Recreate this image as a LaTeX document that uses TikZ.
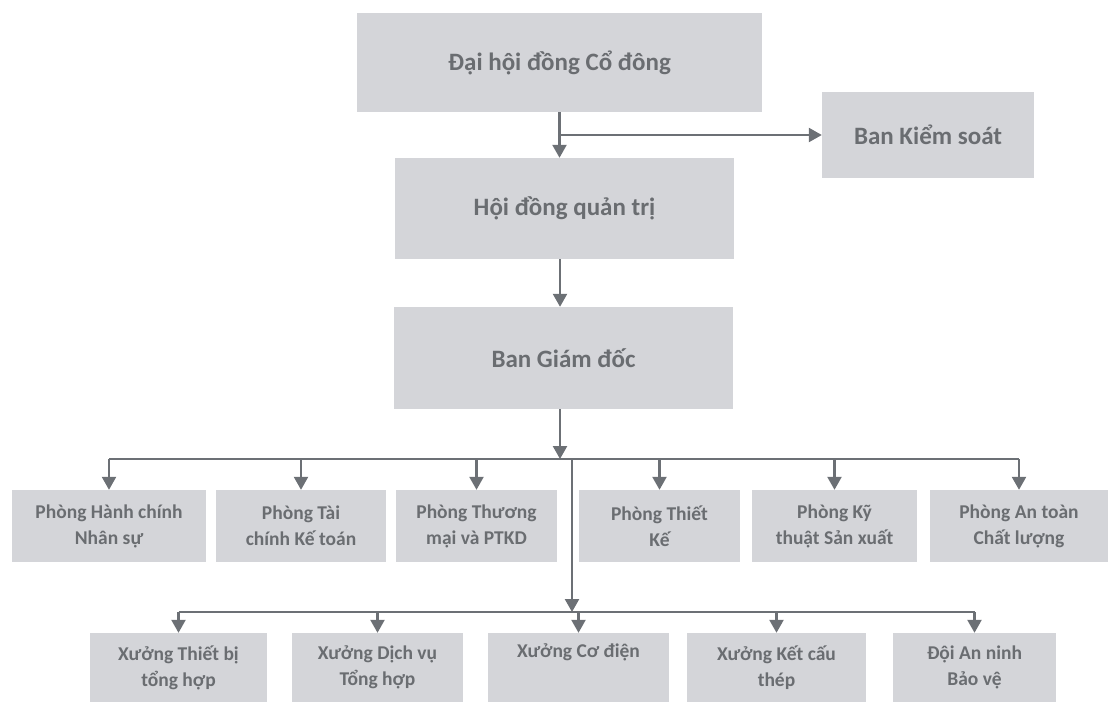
\documentclass[tikz,border=0pt]{standalone}
\usepackage{fontspec}
\setmainfont{Carlito}
\usetikzlibrary{arrows.meta}
\definecolor{boxfill}{HTML}{D4D5D9}
\definecolor{txtgray}{HTML}{6A6D71}
\definecolor{linegray}{HTML}{6C7075}
\begin{document}
\begin{tikzpicture}[x=1pt,y=-1pt,
  box/.style={fill=boxfill, text=txtgray, inner sep=0pt, align=center, font=\bfseries\fontsize{19.5}{26}\selectfont},
  bigbox/.style={box, font=\bfseries\fontsize{25}{30}\selectfont},
  conn/.style={draw=linegray, line width=2.4pt},
  arr/.style={conn, -{Triangle[width=14pt,length=13pt]}}]
\useasboundingbox (0,0) rectangle (1116,702);

% top levels
\node[bigbox, minimum width=405pt, minimum height=99pt] (dh) at (559.5,62.5) {Đại hội đồng Cổ đông};
\node[bigbox, minimum width=212pt, minimum height=86pt] (bks) at (928,135) {Ban Kiểm soát};
\node[bigbox, minimum width=339pt, minimum height=101pt] (hdqt) at (564.5,208.5) {Hội đồng quản trị};
\node[bigbox, minimum width=339pt, minimum height=102pt] (bgd) at (563.5,358) {Ban Giám đốc};

% row 1
\node[box, minimum width=194pt, minimum height=72pt] (p1) at (109,526) {Phòng Hành chính\\Nhân sự};
\node[box, minimum width=170pt, minimum height=72pt] (p2) at (301,526) {Phòng Tài\\chính Kế toán};
\node[box, minimum width=161pt, minimum height=72pt] (p3) at (476.5,526) {Phòng Thương\\mại và PTKD};
\node[box, minimum width=161pt, minimum height=72pt] (p4) at (659.5,526) {Phòng Thiết\\Kế};
\node[box, minimum width=165pt, minimum height=72pt] (p5) at (834.5,526) {Phòng Kỹ\\thuật Sản xuất};
\node[box, minimum width=178pt, minimum height=72pt] (p6) at (1019,526) {Phòng An toàn\\Chất lượng};

% row 2
\node[box, minimum width=177pt, minimum height=69pt] (x1) at (178.5,667.5) {Xưởng Thiết bị\\tổng hợp};
\node[box, minimum width=171pt, minimum height=69pt] (x2) at (377.5,667.5) {Xưởng Dịch vụ\\Tổng hợp};
\node[box, minimum width=181pt, minimum height=69pt] (x3) at (578.5,667.5) {Xưởng Cơ điện\\\strut};
\node[box, minimum width=179pt, minimum height=69pt] (x4) at (776.5,667.5) {Xưởng Kết cấu\\thép};
\node[box, minimum width=163pt, minimum height=69pt] (x5) at (974.5,667.5) {Đội An ninh\\Bảo vệ};

% helper coordinates
\coordinate (spine) at (560,0);
\coordinate (bus1) at (560,459);
\coordinate (s2) at (572,459);
\coordinate (bus2) at (572,612);

% top connectors
\draw[arr] (dh.south) -- (dh.south |- hdqt.north);
\draw[arr] (dh.south |- bks.west) -- (bks.west);
\draw[arr] (spine |- hdqt.south) -- (spine |- bgd.north);
\draw[arr] (spine |- bgd.south) -- (bus1);

% bus 1
\draw[conn] (p1.north |- bus1) -- (p6.north |- bus1);
\foreach \n in {p1,p2,p3,p4,p5,p6}{
  \draw[arr] (\n.north |- bus1) -- (\n.north);
}

% second spine and bus 2
\draw[arr] (s2) -- (bus2);
\draw[conn] (x1.north |- bus2) -- (x5.north |- bus2);
\foreach \n in {x1,x2,x3,x4,x5}{
  \draw[arr] (\n.north |- bus2) -- (\n.north);
}
\end{tikzpicture}
\end{document}
